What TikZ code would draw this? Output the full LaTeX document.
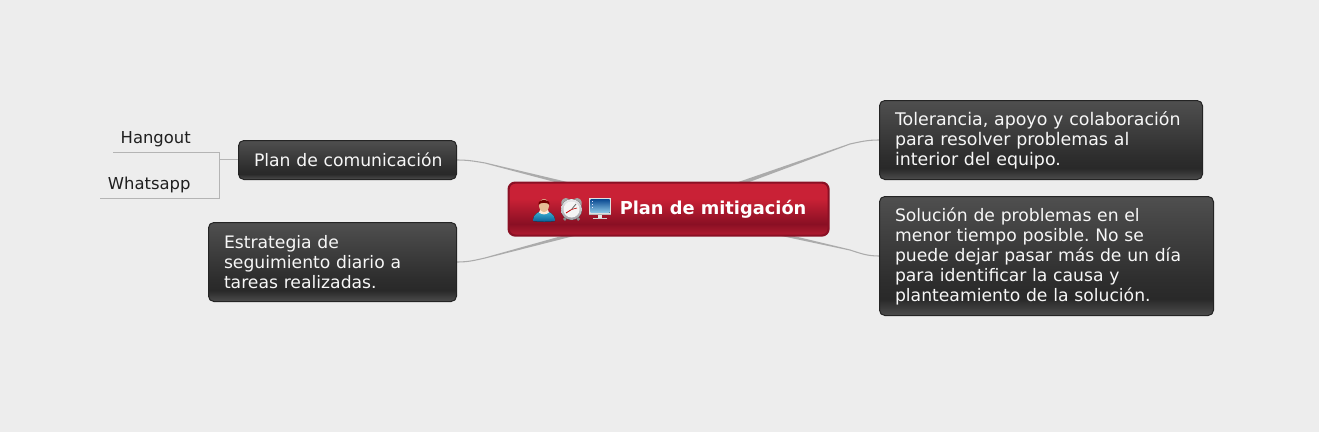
\documentclass[tikz,border=0pt]{standalone}
\usepackage{fontspec}
\setmainfont{DejaVu Sans}
\frenchspacing
\usetikzlibrary{calc,backgrounds}
\definecolor{bgc}{HTML}{EDEDED}
\definecolor{linkc}{HTML}{ABABAB}
\definecolor{branchc}{HTML}{B4B4B4}
\definecolor{boxb}{HTML}{242424}
\definecolor{rootb}{HTML}{8A1024}
\pgfdeclareverticalshading{darkbox}{100bp}{color(0bp)=(black!70!white);color(25bp)=(black!70!white);color(32bp)=(black!84!white);color(40bp)=(black!82!white);color(75bp)=(black!69!white);color(100bp)=(black!69!white)}
\pgfdeclareverticalshading{redbox}{100bp}{rgb(0bp)=(.70,.11,.19);rgb(25bp)=(.70,.11,.19);rgb(36bp)=(.54,.06,.14);rgb(60bp)=(.79,.13,.21);rgb(75bp)=(.79,.13,.21);rgb(100bp)=(.79,.13,.21)}
\pgfdeclareverticalshading{screenshade}{100bp}{rgb(0bp)=(.55,.78,.90);rgb(25bp)=(.55,.78,.90);rgb(75bp)=(.05,.30,.58);rgb(100bp)=(.05,.30,.58)}
\pgfdeclareverticalshading{bodyshade}{100bp}{rgb(0bp)=(.03,.36,.58);rgb(25bp)=(.03,.36,.58);rgb(75bp)=(.25,.72,.85);rgb(100bp)=(.25,.72,.85)}
\pgfdeclareverticalshading{silvershade}{100bp}{rgb(0bp)=(.62,.62,.64);rgb(25bp)=(.62,.62,.64);rgb(75bp)=(.92,.92,.93);rgb(100bp)=(.92,.92,.93)}
\tikzset{
  dark/.style={draw=boxb,line width=.75pt,rounded corners=4pt,shading=darkbox,anchor=north west,
    inner xsep=0pt,inner ysep=0pt,text=white!97!black,align=left,
    font=\fontsize{12.9pt}{15pt}\selectfont},
  leaf/.style={anchor=south east,inner xsep=5.25pt,inner ysep=3.75pt,text=black!88,
    font=\fontsize{12.3pt}{15pt}\selectfont},
  conn/.style={draw=linkc,line width=.8pt},
  connf/.style={fill=linkc},
  branch/.style={draw=branchc,line width=.75pt}
}
\newcommand{\taper}[3]{%
  \draw[conn] (#1) .. controls ($(#1)+(#2*.4,0)$) and ($(#1)+(#2*.62,#3*.4)$) .. ($(#1)+(#2,#3)$);
  \fill[connf] ($(#1)+(#2,#3-.55)$) -- ($(root.center)+(0,-3)$) -- ($(root.center)+(0,3)$) -- ($(#1)+(#2,#3+.55)$) -- cycle;}
\newcommand{\lowerfirst}{\rule{0pt}{11.3pt}}
\begin{document}
\begin{tikzpicture}[x=.75pt,y=-.75pt]
\useasboundingbox (0,0) rectangle (1319,432);
% nodes
\node[draw=rootb,line width=1.6pt,rounded corners=5pt,shading=redbox,minimum width=320*.75pt,minimum height=53*.75pt,
  inner sep=0pt,anchor=north west] (root) at (507.5,181.5) {};
\node[anchor=west,inner sep=0pt,text=white,font=\bfseries\fontsize{13.35pt}{15pt}\selectfont] (roottext) at (619.5,209.5) {Plan de mitigación};
\node[dark,minimum width=218*.75pt,minimum height=39*.75pt,text width=187*.75pt] (plan) at (238,140) {\mbox{Plan de comunicación}};
\node[dark,minimum width=248*.75pt,minimum height=79*.75pt,text width=217*.75pt] (est) at (208,222) {Estrategia de\\seguimiento diario a\\tareas realizadas.};
\node[dark,minimum width=323*.75pt,minimum height=79*.75pt,text width=292*.75pt,font=\fontsize{13.05pt}{15pt}\selectfont] (tol) at (879,100) {\lowerfirst Tolerancia, apoyo y colaboración\\para resolver problemas al\\interior del equipo.};
\node[dark,minimum width=334*.75pt,minimum height=119*.75pt,text width=303*.75pt] (sol) at (879,196) {\lowerfirst Solución de problemas en el\\menor tiempo posible. No se\\puede dejar pasar más de un día\\para identificar la causa y\\planteamiento de la solución.};
\node[leaf,minimum width=82*.75pt,align=right] (hang) at (198,152.5) {Hangout};
\node[leaf,minimum width=97*.75pt,align=right] (whats) at (198,198.5) {Whatsapp};
\coordinate (fork) at (219.5,159.5);
% connectors
\begin{scope}[on background layer]
  \fill[bgc] (0,0) rectangle (1319,432);
  \taper{plan.east}{28}{3}
  \taper{est.east}{28}{-4}
  \taper{tol.west}{-29}{4}
  \taper{sol.west}{-29}{-6}
  \draw[branch] (hang.south west) -- (fork |- hang.south) -- (fork |- whats.south) -- (whats.south west);
  \draw[branch] (fork) -- (fork -| plan.west);
\end{scope}
% person icon
\fill[shading=bodyshade] (533,221) .. controls (533,213) and (540,211) .. (544,211) .. controls (548,211) and (555,213) .. (555,221) .. controls (550,222) and (538,222) .. (533,221) -- cycle;
\fill[white!85!orange] (540.5,209) -- (547.5,209) -- (549,212.5) .. controls (546,215) and (542,215) .. (539,212.5) -- cycle;
\fill[orange!35!white!90!black] (544,205.5) circle [x radius=5,y radius=6.5];
\fill[red!45!black] (538.5,205) .. controls (537.5,198) and (550.5,198) .. (549.5,205) .. controls (548,202) and (540,202) .. (538.5,205) -- cycle;
% clock icon
\fill[black!35] (562,206) .. controls (559,200) and (565,196) .. (569,199) -- cycle;
\fill[black!35] (581,206) .. controls (584,200) and (578,196) .. (574,199) -- cycle;
\fill[black!45] (563,219) -- (565.5,216) -- (567,218) -- (565,221) -- cycle;
\fill[black!45] (580,219) -- (577.5,216) -- (576,218) -- (578,221) -- cycle;
\fill[shading=silvershade] (571.5,209.5) circle (10.5);
\fill[white!96!black] (571.5,209.5) circle (8);
\draw[red!75!black,line width=.6pt] (571.5,209.5) -- (566,213);
\draw[black!60,line width=.6pt] (571.5,209.5) -- (576,204);
\draw[red!75!black,line width=.45pt] (571.5,209.5) -- (577,208);
% monitor icon
\fill[black!12] (589,198) rectangle (611,214);
\fill[shading=screenshade] (590.5,199.5) rectangle (609.5,212.5);
\fill[white!90!blue] (592,201) rectangle (593,202);
\fill[white!90!blue] (592,204) rectangle (593,205);
\fill[white!90!blue] (592,207) rectangle (593,208);
\fill[black!28] (589,214) rectangle (611,215);
\fill[black!10] (598,215) rectangle (602,217.5);
\fill[black!18] (593,217.5) rectangle (607,219);
\end{tikzpicture}
\end{document}
